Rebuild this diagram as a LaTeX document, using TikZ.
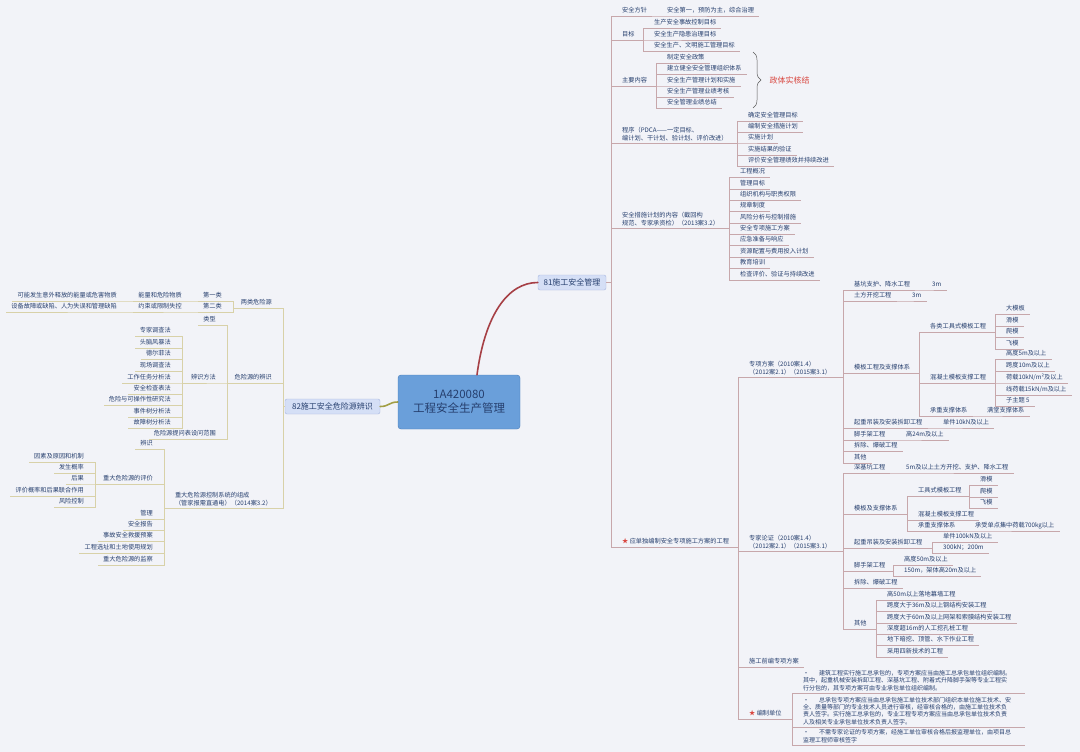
\documentclass[tikz,border=0pt]{standalone}
\usepackage{fontspec}
\setmainfont{Noto Sans CJK SC}
\usetikzlibrary{decorations.pathreplacing}

\definecolor{bgcol}{HTML}{F2F3F8}
\definecolor{ink}{HTML}{263F6E}
\definecolor{rlinecol}{HTML}{C7A7AB}
\definecolor{llinecol}{HTML}{D8D1A8}
\definecolor{rootfill}{HTML}{6A9FDA}
\definecolor{rootdraw}{HTML}{4A7DB9}
\definecolor{subfill}{HTML}{D5DFF6}
\definecolor{subdraw}{HTML}{A8B7DF}
\definecolor{linkred}{HTML}{A63F45}
\definecolor{linkolive}{HTML}{A29E45}
\definecolor{notered}{HTML}{D9463F}

\begin{document}
\begin{tikzpicture}[x=1pt, y=-1pt,
    base/.style={font=\fontsize{6.2}{7.6}\selectfont, text=ink, inner xsep=5pt, inner ysep=2pt},
    topic/.style={base, text height=5pt, text depth=1.3pt},
    multi/.style={base, align=left},
    rt/.style={topic, anchor=south west, xshift=6pt},
    rm/.style={multi, anchor=south west, xshift=6pt},
    lt/.style={topic, anchor=south east, xshift=-6pt},
    lm/.style={multi, anchor=south east, xshift=-6pt},
    para/.style={base, font=\fontsize{6}{7.4}\selectfont, align=left, text width=217pt, anchor=south west, xshift=6pt},
    rootbox/.style={rectangle, rounded corners=3pt, draw=rootdraw, fill=rootfill, text=ink, font=\fontsize{11.5}{13.5}\selectfont, align=center, minimum width=122pt, minimum height=54pt},
    subbox/.style={rectangle, rounded corners=2pt, draw=subdraw, fill=subfill, text=ink, font=\fontsize{8}{9}\selectfont, minimum height=15pt, inner xsep=3pt, inner ysep=0pt},
    rl/.style={draw=rlinecol, line width=0.6pt, to path={-| ([xshift=-6pt]\tikztotarget.south west) -- (\tikztotarget.south east)}},
    ll/.style={draw=llinecol, line width=0.6pt, to path={-| ([xshift=6pt]\tikztotarget.south east) -- (\tikztotarget.south west)}},
    hublink/.style={line width=1.6pt, line cap=round},
    zbrace/.style={decorate, decoration={brace, amplitude=8pt}, draw=gray!70!black, line width=0.5pt}
]
\path[use as bounding box, fill=bgcol] (0,0) rectangle (1080,752);

% 1. Centre and main branches
\node[rootbox] (root) at (459,402) {1A420080\\工程安全生产管理};
\node[subbox, minimum width=68pt] (b81) at (572,282.5) {81施工安全管理};
\node[subbox, minimum width=95pt] (b82) at (332.5,406.5) {82施工安全危险源辨识};

% 2. Right branch, first level
\node[rt] (r1) at (611,16) {安全方针};
\node[rt] (r2) at (611,40) {目标};
\node[rt] (r3) at (611,86) {主要内容};
\node[rm] (r4) at (611,143) {程序（PDCA——一定目标、\\编计划、干计划、验计划、评价改进）};
\node[rm] (r5) at (611,228) {安全措施计划的内容（截回构\\规范、专家承资检）（2013案3.2）};
\node[rt] (r6) at (611,547) {\textcolor{notered}{★} 应单独编制安全专项施工方案的工程};

% 3. Policy, targets, contents
\node[rt] (r1a) at (656,16) {安全第一，预防为主，综合治理};
\node[rt] (r2a) at (643,28) {生产安全事故控制目标};
\node[rt] (r2b) at (643,40) {安全生产隐患治理目标};
\node[rt] (r2c) at (643,51) {安全生产、文明施工管理目标};
\node[rt] (r3a) at (656,63) {制定安全政策};
\node[rt] (r3b) at (656,74) {建立健全安全管理组织体系};
\node[rt] (r3c) at (656,86) {安全生产管理计划和实施};
\node[rt] (r3d) at (656,97) {安全生产管理业绩考核};
\node[rt] (r3e) at (656,108) {安全管理业绩总结};
\draw[zbrace] (753,52) -- (753,108);
\node[font=\fontsize{8}{9}\selectfont, text=notered, anchor=west] (zt) at (766,80) {政体实核结};

% 4. Procedure and plan contents
\node[rt] (r4a) at (737,121) {确定安全管理目标};
\node[rt] (r4b) at (737,132) {编制安全措施计划};
\node[rt] (r4c) at (737,143) {实施计划};
\node[rt] (r4d) at (737,155) {实施结果的验证};
\node[rt] (r4e) at (737,166) {评价安全管理绩效并持续改进};
\node[rt] (r5a) at (729,177) {工程概况};
\node[rt] (r5b) at (729,189) {管理目标};
\node[rt] (r5c) at (729,200) {组织机构与职责权限};
\node[rt] (r5d) at (729,211) {规章制度};
\node[rt] (r5e) at (729,223) {风险分析与控制措施};
\node[rt] (r5f) at (729,234) {安全专项施工方案};
\node[rt] (r5g) at (729,245) {应急准备与响应};
\node[rt] (r5h) at (729,257) {资源配置与费用投入计划};
\node[rt] (r5i) at (729,268) {教育培训};
\node[rt] (r5j) at (729,280) {检查评价、验证与持续改进};

% 5. Special schemes
\node[rm] (s1) at (738,377) {专项方案（2010案1.4）\\（2012案2.1）（2015案3.1）};
\node[rm] (s2) at (738,551) {专家论证（2010案1.4）\\（2012案2.1）（2015案3.1）};
\node[rt] (s3) at (738,667) {施工前编专项方案};
\node[rt] (s4) at (738,719) {\textcolor{notered}{★} 编制单位};

\node[rt] (a1) at (843,290) {基坑支护、降水工程};
\node[rt] (a1x) at (921,290) {3m};
\node[rt] (a2) at (843,301) {土方开挖工程};
\node[rt] (a2x) at (901,301) {3m};
\node[rt] (a3) at (843,373) {模板工程及支撑体系};
\node[rt] (b1) at (919,332) {各类工具式模板工程};
\node[rt] (b1a) at (995,314) {大模板};
\node[rt] (b1b) at (995,326) {滑模};
\node[rt] (b1c) at (995,337) {爬模};
\node[rt] (b1d) at (995,349) {飞模};
\node[rt] (b2) at (919,383) {混凝土模板支撑工程};
\node[rt] (b2a) at (995,359) {高度5m及以上};
\node[rt] (b2b) at (995,371) {跨度10m及以上};
\node[rt] (b2c) at (995,383) {荷载10kN/m²及以上};
\node[rt] (b2d) at (995,395) {线荷载15kN/m及以上};
\node[rt] (b2e) at (995,406) {子主题 5};
\node[rt] (b3) at (919,416) {承重支撑体系};
\node[rt] (b3x) at (976,416) {满堂支撑体系};
\node[rt] (a4) at (843,428) {起重吊装及安装拆卸工程};
\node[rt] (a4x) at (932,428) {单件10kN及以上};
\node[rt] (a5) at (843,440) {脚手架工程};
\node[rt] (a5x) at (895,440) {高24m及以上};
\node[rt] (a6) at (843,451) {拆除、爆破工程};
\node[rt] (a7) at (843,463) {其他};

% 6. Expert review
\node[rt] (c1) at (843,473) {深基坑工程};
\node[rt] (c1x) at (895,473) {5m及以上土方开挖、支护、降水工程};
\node[rt] (c2) at (843,514) {模板及支撑体系};
\node[rt] (d1) at (907,496) {工具式模板工程};
\node[rt] (d1a) at (969,485) {滑模};
\node[rt] (d1b) at (969,497) {爬模};
\node[rt] (d1c) at (969,508) {飞模};
\node[rt] (d2) at (907,520) {混凝土模板支撑工程};
\node[rt] (d3) at (907,531) {承重支撑体系};
\node[rt] (d3x) at (964,531) {承受单点集中荷载700kg以上};
\node[rt] (c3) at (843,548) {起重吊装及安装拆卸工程};
\node[rt] (c3a) at (932,542) {单件100kN及以上};
\node[rt] (c3b) at (932,553) {300kN；200m};
\node[rt] (c4) at (843,571) {脚手架工程};
\node[rt] (c4a) at (893,565) {高度50m及以上};
\node[rt] (c4b) at (893,576) {150m，架体高20m及以上};
\node[rt] (c5) at (843,588) {拆除、爆破工程};
\node[rt] (c6) at (843,629) {其他};
\node[rt] (c6a) at (876,600) {高50m以上落地幕墙工程};
\node[rt] (c6b) at (876,611) {跨度大于36m及以上钢结构安装工程};
\node[rt] (c6c) at (876,623) {跨度大于60m及以上网架和索膜结构安装工程};
\node[rt] (c6d) at (876,634) {深度超16m的人工挖孔桩工程};
\node[rt] (c6e) at (876,645) {地下暗挖、顶管、水下作业工程};
\node[rt] (c6f) at (876,657) {采用四新技术的工程};

% 7. Who writes the scheme
\node[para] (p1) at (792,693) {•\hspace{10pt}建筑工程实行施工总承包的，专项方案应当由施工总承包单位组织编制。\\其中，起重机械安装拆卸工程、深基坑工程、附着式升降脚手架等专业工程实\\行分包的，其专项方案可由专业承包单位组织编制。};
\node[para] (p2) at (792,727) {•\hspace{10pt}总承包专项方案应当由总承包施工单位技术部门组织本单位施工技术、安\\全、质量等部门的专业技术人员进行审核，经审核合格的，由施工单位技术负\\责人签字。实行施工总承包的，专业工程专项方案应当由总承包单位技术负责\\人及相关专业承包单位技术负责人签字。};
\node[para] (p3) at (792,745) {•\hspace{10pt}不需专家论证的专项方案，经施工单位审核合格后报监理单位，由项目总\\监理工程师审核签字};

% 8. Left branch
\node[lt] (l1) at (283,308) {两类危险源};
\node[lt] (m1) at (233,301) {第一类};
\node[lt] (m1a) at (193,301) {能量和危险物质};
\node[lt] (m1b) at (128,301) {可能发生意外释放的能量或危害物质};
\node[lt] (m2) at (233,312) {第二类};
\node[lt] (m2a) at (193,312) {约束或限制失控};
\node[lt] (m2b) at (128,312) {设备故障或缺陷、人为失误和管理缺陷};
\node[lt] (l2) at (283,383) {危险源的辨识};
\node[lt] (n1) at (227,325) {类型};
\node[lt] (n2) at (227,383) {辨识方法};
\node[lt] (n2a) at (182,336) {专家调查法};
\node[lt] (n2b) at (182,348) {头脑风暴法};
\node[lt] (n2c) at (182,359) {德尔菲法};
\node[lt] (n2d) at (182,371) {现场调查法};
\node[lt] (n2e) at (182,383) {工作任务分析法};
\node[lt] (n2f) at (182,394) {安全检查表法};
\node[lt] (n2g) at (182,405) {危险与可操作性研究法};
\node[lt] (n2h) at (182,417) {事件树分析法};
\node[lt] (n2i) at (182,428) {故障树分析法};
\node[lt] (n3) at (227,439) {危险源提问表设问范围};
\node[lm] (l3) at (283,508) {重大危险源控制系统的组成\\（管家报需直通电）（2014案3.2）};
\node[lt] (o1) at (164,449) {辨识};
\node[lt] (o2) at (164,484) {重大危险源的评价};
\node[lt] (o2a) at (95,462) {因素及原因和机制};
\node[lt] (o2b) at (95,473) {发生概率};
\node[lt] (o2c) at (95,484) {后果};
\node[lt] (o2d) at (95,496) {评价概率和后果联合作用};
\node[lt] (o2e) at (95,507) {风险控制};
\node[lt] (o3) at (164,519) {管理};
\node[lt] (o4) at (164,530) {安全报告};
\node[lt] (o5) at (164,541) {事故安全救援预案};
\node[lt] (o6) at (164,553) {工程选址和土地使用规划};
\node[lt] (o7) at (164,565) {重大危险源的监察};

% 9. Connections
\draw[hublink, draw=linkred] ([xshift=18pt]root.north) .. controls +(8,-60) and +(-30,0) .. (b81.west);
\draw[hublink, draw=linkolive] (root.west) .. controls +(-9,0) and +(9,0) .. (b82.east);

\foreach \nd in {r1,r2,r3,r4,r5,r6} \draw[rl] (b81.east) to (\nd);
\draw[rl] (r1.south east) to (r1a);
\foreach \nd in {r2a,r2b,r2c} \draw[rl] (r2.south east) to (\nd);
\foreach \nd in {r3a,r3b,r3c,r3d,r3e} \draw[rl] (r3.south east) to (\nd);
\foreach \nd in {r4a,r4b,r4c,r4d,r4e} \draw[rl] (r4.south east) to (\nd);
\foreach \nd in {r5a,r5b,r5c,r5d,r5e,r5f,r5g,r5h,r5i,r5j} \draw[rl] (r5.south east) to (\nd);
\foreach \nd in {s1,s2,s3,s4} \draw[rl] (r6.south east) to (\nd);

\foreach \nd in {a1,a2,a3,a4,a5,a6,a7} \draw[rl] (s1.south east) to (\nd);
\draw[rl] (a1.south east) to (a1x);
\draw[rl] (a2.south east) to (a2x);
\foreach \nd in {b1,b2,b3} \draw[rl] (a3.south east) to (\nd);
\foreach \nd in {b1a,b1b,b1c,b1d} \draw[rl] (b1.south east) to (\nd);
\foreach \nd in {b2a,b2b,b2c,b2d,b2e} \draw[rl] (b2.south east) to (\nd);
\draw[rl] (b3.south east) to (b3x);
\draw[rl] (a4.south east) to (a4x);
\draw[rl] (a5.south east) to (a5x);

\foreach \nd in {c1,c2,c3,c4,c5,c6} \draw[rl] (s2.south east) to (\nd);
\draw[rl] (c1.south east) to (c1x);
\foreach \nd in {d1,d2,d3} \draw[rl] (c2.south east) to (\nd);
\foreach \nd in {d1a,d1b,d1c} \draw[rl] (d1.south east) to (\nd);
\draw[rl] (d3.south east) to (d3x);
\foreach \nd in {c3a,c3b} \draw[rl] (c3.south east) to (\nd);
\foreach \nd in {c4a,c4b} \draw[rl] (c4.south east) to (\nd);
\foreach \nd in {c6a,c6b,c6c,c6d,c6e,c6f} \draw[rl] (c6.south east) to (\nd);
\foreach \nd in {p1,p2,p3} \draw[rl] (s4.south east) to (\nd);

\foreach \nd in {l1,l2,l3} \draw[ll] (b82.west) to (\nd);
\foreach \nd in {m1,m2} \draw[ll] (l1.south west) to (\nd);
\draw[ll] (m1.south west) to (m1a);
\draw[ll] (m1a.south west) to (m1b);
\draw[ll] (m2.south west) to (m2a);
\draw[ll] (m2a.south west) to (m2b);
\foreach \nd in {n1,n2,n3} \draw[ll] (l2.south west) to (\nd);
\foreach \nd in {n2a,n2b,n2c,n2d,n2e,n2f,n2g,n2h,n2i} \draw[ll] (n2.south west) to (\nd);
\foreach \nd in {o1,o2,o3,o4,o5,o6,o7} \draw[ll] (l3.south west) to (\nd);
\foreach \nd in {o2a,o2b,o2c,o2d,o2e} \draw[ll] (o2.south west) to (\nd);

\end{tikzpicture}
\end{document}
